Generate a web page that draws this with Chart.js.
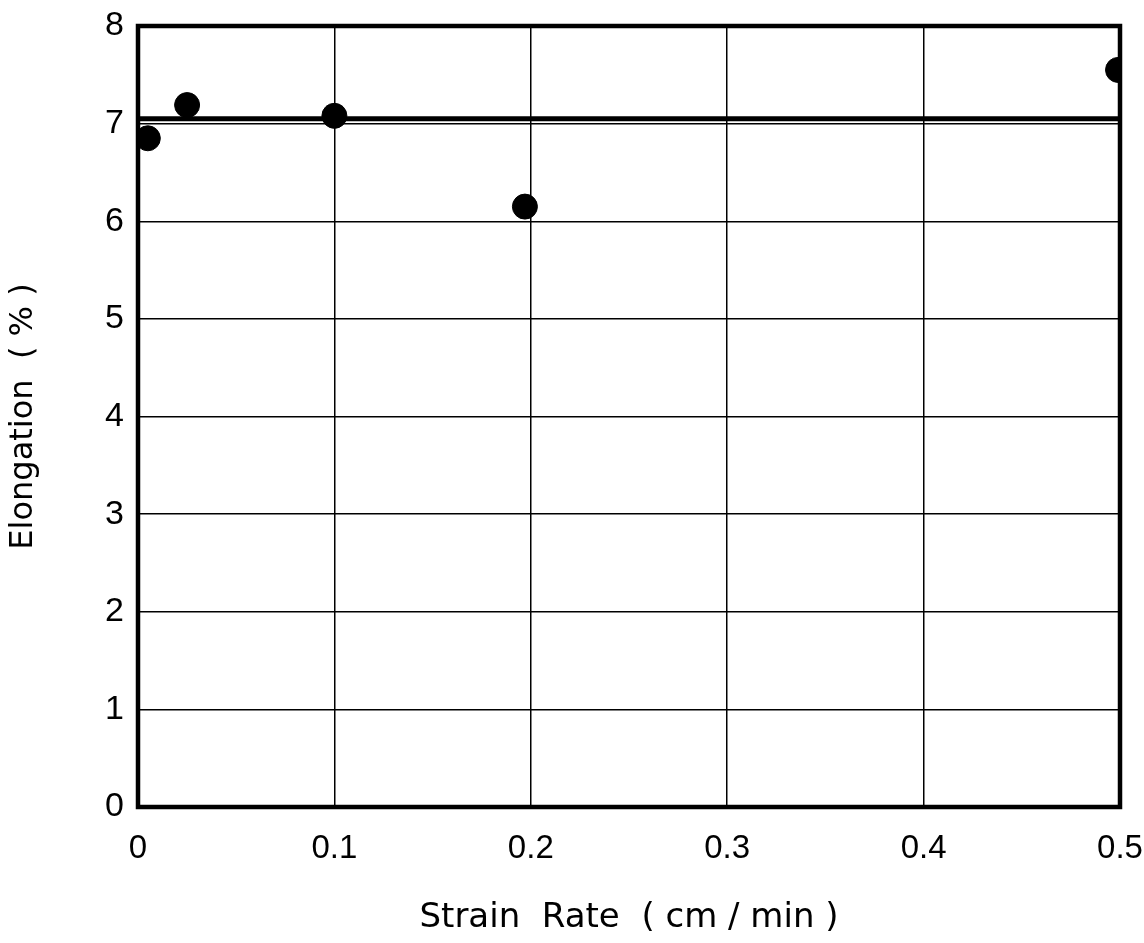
<!DOCTYPE html>
<html><head><meta charset="utf-8">
<script src="https://cdn.jsdelivr.net/npm/chart.js@4/dist/chart.umd.min.js"></script>
<style>html,body{margin:0;padding:0;background:#fff}#wrap{width:1144px;height:943px}</style>
</head><body><div id="wrap"><canvas id="c" width="1144" height="943"></canvas></div>
<script>
const strainRate = [0.005, 0.025, 0.1, 0.197, 0.499];
const elongation = [6.85, 7.19, 7.08, 6.15, 7.55];
const meanLineX = [0, 0.5];
const meanLineY = [7.05, 7.05];
const xTicks = [0, 0.1, 0.2, 0.3, 0.4, 0.5];
const yTicks = [0, 1, 2, 3, 4, 5, 6, 7, 8];
const xTitle = 'Strain  Rate  ( cm / min )';
const yTitle = 'Elongation  ( % )';

const FONT = "'DejaVu Sans', sans-serif";
const TICKFONT = "'Liberation Sans', Arial, sans-serif";
const frame = {
  id: 'frame',
  afterDatasetsDraw(chart) {
    const a = chart.chartArea, ctx = chart.ctx;
    ctx.save();
    ctx.strokeStyle = '#000';
    ctx.lineWidth = 4.5;
    ctx.strokeRect(a.left, a.top, a.right - a.left, a.bottom - a.top);
    ctx.restore();
  }
};

new Chart(document.getElementById('c'), {
  type: 'scatter',
  data: {
    datasets: [
      {
        data: meanLineX.map((x, i) => ({x, y: meanLineY[i]})),
        type: 'line', showLine: true, borderColor: '#000', borderWidth: 5,
        pointRadius: 0, fill: false
      },
      {
        data: strainRate.map((x, i) => ({x, y: elongation[i]})),
        backgroundColor: '#000', borderColor: '#000', pointRadius: 12.5, pointHoverRadius: 12.5
      }
    ]
  },
  options: {
    responsive: false, animation: false,
    layout: {padding: {left: 0, right: 24, top: 26, bottom: 0}},
    plugins: {legend: {display: false}, tooltip: {enabled: false}},
    scales: {
      x: {
        type: 'linear', min: 0, max: 0.5,
        afterBuildTicks(s) { s.ticks = xTicks.map(v => ({value: v})); },
        afterFit(s) { s.height = 943 - 807; s.paddingLeft = 0; s.paddingRight = 0; },
        grid: {color: '#000', lineWidth: 1.5, drawTicks: false},
        border: {display: false},
        ticks: {color: '#000', font: {family: TICKFONT, size: 33}, padding: 22,
          callback: v => v === 0 ? '0' : v.toFixed(1), maxRotation: 0},
        title: {display: true, text: xTitle, color: '#000', font: {family: FONT, size: 34}, padding: {top: 22}}
      },
      y: {
        type: 'linear', min: 0, max: 8,
        afterBuildTicks(s) { s.ticks = yTicks.map(v => ({value: v})); },
        afterFit(s) { s.width = 138; s.paddingTop = 0; s.paddingBottom = 0; },
        grid: {color: '#000', lineWidth: 1.5, drawTicks: false},
        border: {display: false},
        ticks: {color: '#000', font: {family: TICKFONT, size: 34}, padding: 14},
        title: {display: true, text: yTitle, color: '#000', font: {family: FONT, size: 32}, padding: {top: 4, bottom: 26}}
      }
    }
  },
  plugins: [frame]
});
</script></body></html>
